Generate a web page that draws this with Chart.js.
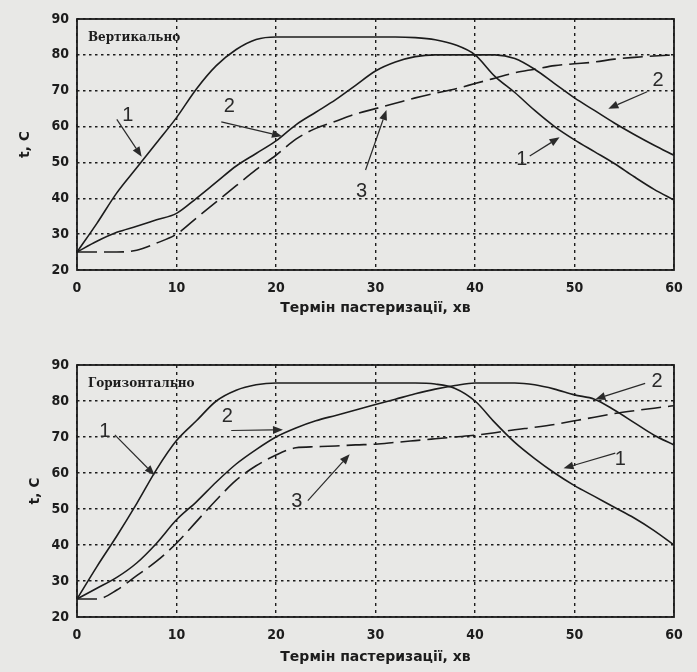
<!DOCTYPE html>
<html><head><meta charset="utf-8">
<script src="https://cdn.jsdelivr.net/npm/chart.js@4.4.1/dist/chart.umd.min.js"></script>
<style>
html,body{margin:0;padding:0;background:#e8e8e6;width:697px;height:672px;overflow:hidden}
.wrap{position:absolute;left:0;width:697px;height:336px}
canvas{display:block}
</style></head><body>
<div class="wrap" style="top:0"><canvas id="c1" width="697" height="336"></canvas></div>
<div class="wrap" style="top:336px"><canvas id="c2" width="697" height="336"></canvas></div>
<script>
// ---- data ----
const minutes = [0,2,4,6,8,10,12,14,16,18,20,22,24,26,28,30,32,34,36,38,40,42,44,46,48,50,52,54,56,58,60];
const vert1 = [25,33,41.5,48.5,55.5,62.5,70.5,77,81.5,84.3,85,85,85,85,85,85,85,84.8,84.2,82.8,80,74,69.5,64.5,60,56.3,53,49.7,46,42.5,39.5];
const vert2 = [25,28,30.5,32.2,34,35.8,40,44.5,49,52.5,56,60.5,64,67.5,71.5,75.5,78,79.5,80,80,80,80,79,76,72,68,64.5,61,57.8,54.8,52];
const vert3 = [25,25,25,25.5,27.5,30,34.5,39,43.5,48,52,56.5,59.5,61.5,63.5,65,66.5,68,69.3,70.5,72,73.5,75,76,77,77.5,78,78.8,79.3,79.7,80];
const hor1 = [25,34,42.5,51.5,61,69,74.5,80,83,84.5,85,85,85,85,85,85,85,85,84.7,83.5,80,74,68.5,64,60,56.5,53.5,50.5,47.5,44,40];
const hor2 = [25,28,31,35,40.5,47,52,57.5,62.5,66.5,70,72.5,74.5,76,77.5,79,80.5,82,83.3,84.3,85,85,85,84.5,83.3,81.7,80.5,77.5,74,70.5,67.8];
const hor3 = [25,25,27.5,31.5,35.5,40.5,46.5,52.5,58,62,65,67,67.3,67.5,67.8,68,68.5,69,69.5,70,70.5,71.2,72,72.7,73.5,74.5,75.5,76.5,77.3,78,78.7];
const yTicks = [20,30,40,50,60,70,80,90];
const xTicks = [0,10,20,30,40,50,60];
const xTitle = 'Термін пастеризації, хв';
const yTitle = 't, C';
const topLabel = 'Вертикально';
const bottomLabel = 'Горизонтально';
// curve-number callouts (data units): label position, arrow start, arrow end
const topNotes = [
  {text:'1', at:[5.1,63], from:[4.0,62], to:[6.5,51.6]},
  {text:'2', at:[15.3,65.7], from:[14.5,61.3], to:[20.6,57.3]},
  {text:'3', at:[28.6,42], from:[29.0,47.9], to:[31.1,64.6]},
  {text:'1', at:[44.7,50.9], from:[45.5,51.8], to:[48.5,57]},
  {text:'2', at:[58.4,72.9], from:[57.3,69.7], to:[53.4,65]}
];
const bottomNotes = [
  {text:'1', at:[2.8,71.5], from:[3.8,70.6], to:[7.8,59.4]},
  {text:'2', at:[15.1,75.6], from:[15.5,71.8], to:[20.7,72]},
  {text:'3', at:[22.1,52], from:[23.2,52.3], to:[27.4,65.2]},
  {text:'1', at:[54.6,63.8], from:[54.1,65.5], to:[48.9,61.3]},
  {text:'2', at:[58.3,85.4], from:[57.1,84.9], to:[52.1,80.5]}
];

const INK = '#1c1c1c';
const TICKFONT = {family:'"Liberation Sans Narrow","DejaVu Sans Condensed","Liberation Sans",sans-serif', size:14, weight:'bold'};

function pts(ys){ return minutes.map((m,i)=>({x:m,y:ys[i]})); }

const framePlugin = {
  id:'frame',
  afterDatasetsDraw(chart, args, opts){
    const {ctx, chartArea:a, scales:{x,y}} = chart;
    ctx.save();
    ctx.strokeStyle = INK; ctx.lineWidth = 1.8; ctx.setLineDash([]);
    ctx.strokeRect(a.left, a.top, a.right-a.left, a.bottom-a.top);
    // corner label
    ctx.fillStyle = INK;
    ctx.font = 'bold 12px "DejaVu Serif","Liberation Serif",serif';
    ctx.textAlign = 'left'; ctx.textBaseline = 'middle';
    ctx.fillText(opts.label, x.getPixelForValue(opts.labelAt[0]), y.getPixelForValue(opts.labelAt[1]));
    // callouts
    ctx.font = '20px "Liberation Sans",sans-serif';
    ctx.textAlign = 'center';
    ctx.fillStyle = '#2a2a2a';
    ctx.strokeStyle = '#2a2a2a'; ctx.lineWidth = 1.2;
    for (const n of opts.notes){
      ctx.fillText(n.text, x.getPixelForValue(n.at[0]), y.getPixelForValue(n.at[1]));
      const x0 = x.getPixelForValue(n.from[0]), y0 = y.getPixelForValue(n.from[1]);
      const x1 = x.getPixelForValue(n.to[0]), y1 = y.getPixelForValue(n.to[1]);
      const ang = Math.atan2(y1-y0, x1-x0);
      const L = 10, W = 4;
      const bx = x1 - L*Math.cos(ang), by = y1 - L*Math.sin(ang);
      ctx.beginPath(); ctx.moveTo(x0,y0); ctx.lineTo(bx,by); ctx.stroke();
      ctx.beginPath();
      ctx.moveTo(x1,y1);
      ctx.lineTo(bx + W*Math.sin(ang), by - W*Math.cos(ang));
      ctx.lineTo(bx - W*Math.sin(ang), by + W*Math.cos(ang));
      ctx.closePath(); ctx.fill();
    }
    ctx.restore();
  }
};

function makeChart(id, s1, s2, s3, topPad, xAxisH, xTitlePadB, yTitlePad, label, notes){
  const ds = (data, dash) => ({
    data: pts(data), borderColor: INK, borderWidth: 1.6, borderDash: dash,
    pointRadius: 0, fill: false, tension: 0.35, cubicInterpolationMode: 'monotone'
  });
  return new Chart(document.getElementById(id), {
    type: 'line',
    data: { datasets: [ds(s1, []), ds(s2, []), ds(s3, [20,7])] },
    options: {
      responsive: false, animation: false, devicePixelRatio: 1,
      layout: { padding: { top: topPad, right: 23, left: 0, bottom: 0 } },
      plugins: { legend: {display:false}, tooltip: {enabled:false},
        frame: { label: label, labelAt: [1.1, 84.8], notes: notes } },
      scales: {
        x: {
          type: 'linear', min: 0, max: 60,
          afterBuildTicks: s => { s.ticks = xTicks.map(v => ({value:v})); },
          afterFit: s => { s.height = xAxisH; },
          ticks: { font: TICKFONT, color: INK, padding: 10, maxRotation: 0 },
          grid: { color: INK, lineWidth: 1.4, drawTicks: false },
          border: { display: false, dash: [3,4] },
          title: { display: true, text: xTitle, color: INK,
            font: {family:'"DejaVu Sans","Liberation Sans",sans-serif', size:14, weight:'bold'},
            padding: { top: 0, bottom: xTitlePadB } }
        },
        y: {
          min: 20, max: 90,
          afterBuildTicks: s => { s.ticks = yTicks.map(v => ({value:v})); },
          afterFit: s => { s.width = 77; },
          ticks: { font: TICKFONT, color: INK, padding: 8 },
          grid: { color: INK, lineWidth: 1.4, drawTicks: false },
          border: { display: false, dash: [2.5,3.5] },
          title: { display: true, text: yTitle, color: INK,
            font: {family:'"DejaVu Sans","Liberation Sans",sans-serif', size:14, weight:'bold'},
            padding: { top: yTitlePad, bottom: 0 } }
        }
      }
    },
    plugins: [framePlugin]
  });
}

makeChart('c1', vert1, vert2, vert3, 19, 66, 19.6, 17, topLabel, topNotes);
makeChart('c2', hor1, hor2, hor3, 29, 55, 6.6, 27, bottomLabel, bottomNotes);
</script>
</body></html>
